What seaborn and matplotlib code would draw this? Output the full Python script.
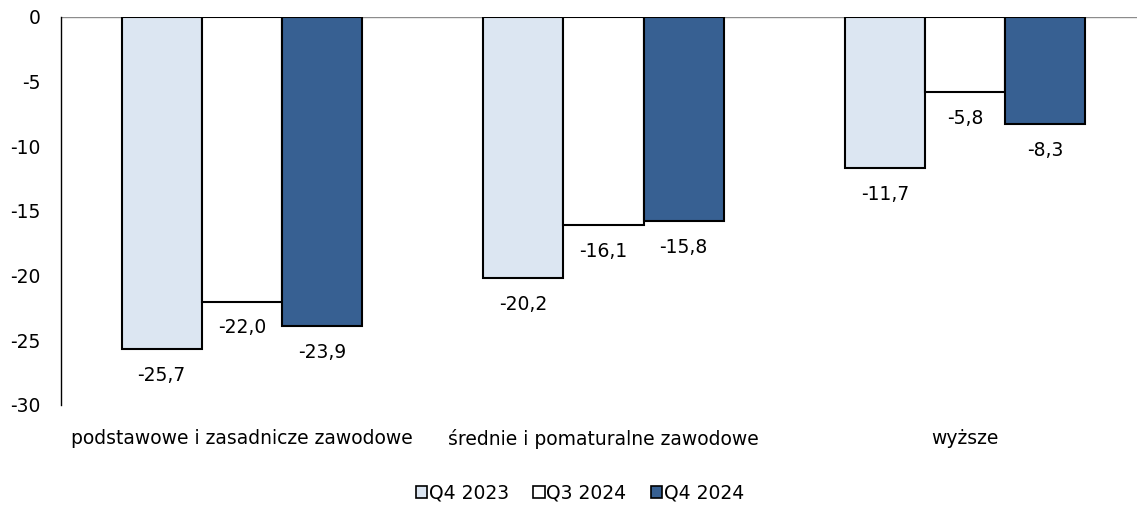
import matplotlib.pyplot as plt
import seaborn as sns
import pandas as pd
from matplotlib.patches import Patch

sns.set_style("white")
plt.rcParams['font.family'] = ['DejaVu Sans']
plt.rcParams['text.color'] = 'black'
plt.rcParams['xtick.color'] = 'black'
plt.rcParams['ytick.color'] = 'black'

categories = ['podstawowe i zasadnicze zawodowe', 'średnie i pomaturalne zawodowe', 'wyższe']
series = ['Q4 2023', 'Q3 2024', 'Q4 2024']
q4_2023 = [-25.7, -20.2, -11.7]
q3_2024 = [-22.0, -16.1, -5.8]
q4_2024 = [-23.9, -15.8, -8.3]
colors = ['#dce6f2', '#ffffff', '#376092']
yticks = [0, -5, -10, -15, -20, -25, -30]

rows = []
for name, vals in zip(series, [q4_2023, q3_2024, q4_2024]):
    for cat, v in zip(categories, vals):
        rows.append({'kat': cat, 'seria': name, 'val': v})
df = pd.DataFrame(rows)

fs = 13.5

fig = plt.figure(figsize=(11.37, 5.12), dpi=100)
ax = fig.add_axes([61 / 1137, (512 - 405) / 512, 1085 / 1137, 388 / 512])

sns.barplot(data=df, x='kat', y='val', hue='seria', palette=colors,
            edgecolor='black', linewidth=1.5, width=0.665, ax=ax,
            legend=False, saturation=1)

for cont in ax.containers:
    for bar in cont:
        h = bar.get_height()
        ax.annotate(f'{h:.1f}'.replace('.', ','),
                    (bar.get_x() + bar.get_width() / 2, h),
                    xytext=(0, -12), textcoords='offset points',
                    ha='center', va='top', fontsize=fs)

ax.set_ylim(-30, 0)
ax.set_xlim(-0.5, 2.5)
ax.set_yticks(yticks)
ax.set_yticklabels([str(t) for t in yticks], fontsize=fs)
ax.tick_params(axis='y', length=0, pad=15)
ax.tick_params(axis='x', length=0, pad=17, labelsize=fs)
ax.set_xlabel('')
ax.set_ylabel('')
for s in ['top', 'right', 'bottom']:
    ax.spines[s].set_visible(False)
ax.spines['left'].set_color('black')
ax.spines['left'].set_linewidth(1)
ax.axhline(0, color='#8c8c8c', linewidth=1, zorder=0)

handles = [Patch(facecolor=c, edgecolor='black', linewidth=1.2, label=s)
           for c, s in zip(colors, series)]
fig.legend(handles=handles, loc='center', bbox_to_anchor=(580 / 1137, 1 - 493 / 512),
           ncol=3, frameon=False, fontsize=fs, handlelength=0.6, handleheight=0.6,
           handletextpad=0.1, columnspacing=1.3)

fig.savefig('out.png', dpi=100)
